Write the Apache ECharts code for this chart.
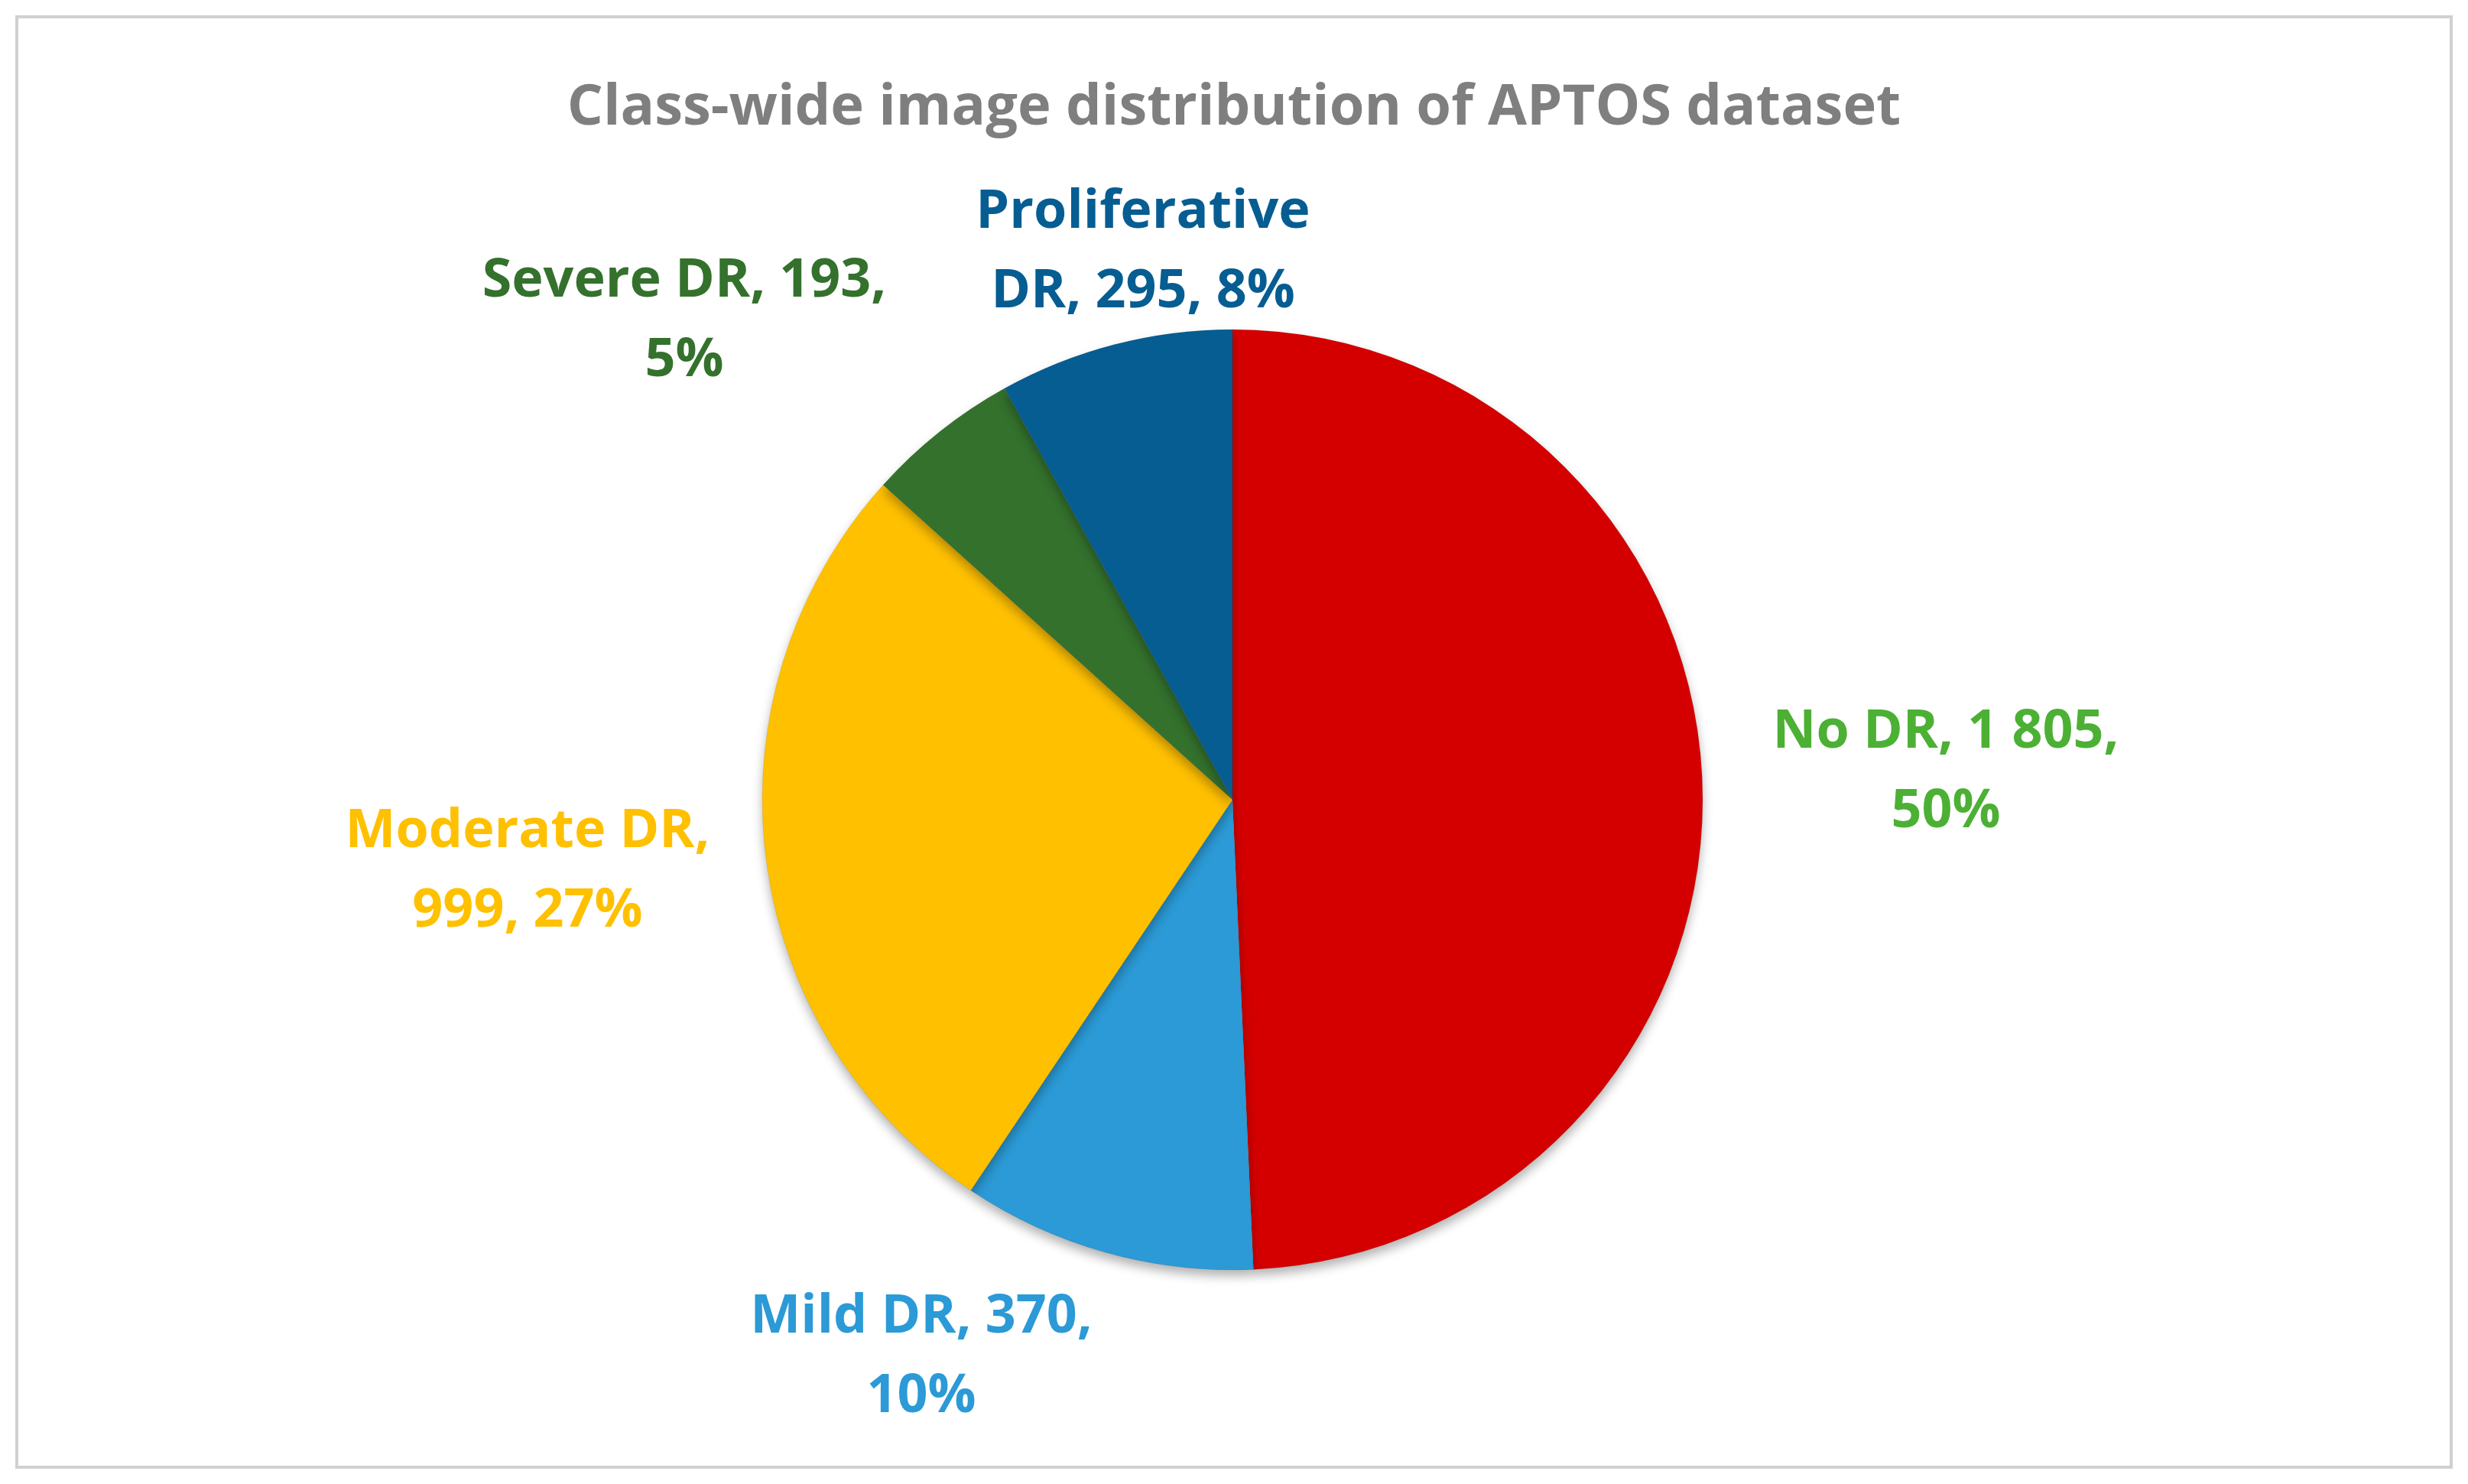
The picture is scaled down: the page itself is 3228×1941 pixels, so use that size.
<!DOCTYPE html>
<html><head><meta charset="utf-8">
<script src="https://cdn.jsdelivr.net/npm/echarts@6/dist/echarts.min.js"></script>
<style>html,body{margin:0;background:#fff}#c{width:3228px;height:1941px}</style>
</head><body><div id="c"></div>
<script>
const categories = ["No DR", "Mild DR", "Moderate DR", "Severe DR", "Proliferative DR"];
const counts = [1805, 370, 999, 193, 295];
const percents = [50, 10, 27, 5, 8];
const sliceColors = ["#d40000", "#2b9ad6", "#ffc000", "#34712d", "#065d92"];
const labelColors = ["#4cb035", "#2b9ad6", "#ffc000", "#34712d", "#065d92"];
// label lines as drawn in the reference (name split over two rows)
const labelText = [
  "No DR, 1 805,\n50%", "Mild DR, 370,\n10%", "Moderate DR,\n999, 27%",
  "Severe DR, 193,\n5%", "Proliferative\nDR, 295, 8%"
];
const labelPos = [[2545, 1010], [1205, 1775], [690, 1140], [895, 420], [1495, 330]];

const chart = echarts.init(document.getElementById("c"));
chart.setOption({
  animation: false,
  title: {
    text: "Class-wide image distribution of APTOS dataset",
    left: "center", top: 100,
    textStyle: { fontFamily: "Open Sans", fontWeight: "bold", fontSize: 74, color: "#7f7f7f" }
  },
  graphic: [{
    type: "rect", shape: { x: 22, y: 22, width: 3184, height: 1897 },
    style: { fill: "none", stroke: "#d0d0d0", lineWidth: 4 }
  }],
  series: [{
    type: "pie",
    center: [1612, 1046],
    radius: 615,
    startAngle: 90,
    clockwise: true,
    data: categories.map((n, i) => ({
      name: n, value: counts[i],
      itemStyle: { color: sliceColors[i] },
      label: { color: labelColors[i], formatter: labelText[i] }
    })),
    itemStyle: { borderColor: "rgba(0,0,0,0.08)", borderWidth: 1, shadowBlur: 14, shadowColor: "rgba(0,0,0,0.3)", shadowOffsetY: 8 },
    label: {
      show: true, position: "outside",
      fontFamily: "Open Sans", fontWeight: "bold", fontSize: 70, lineHeight: 104, align: "center"
    },
    labelLine: { show: false },
    labelLayout: (p) => ({ x: labelPos[p.dataIndex][0], y: labelPos[p.dataIndex][1], align: "center", verticalAlign: "middle" })
  }]
});
</script></body></html>
